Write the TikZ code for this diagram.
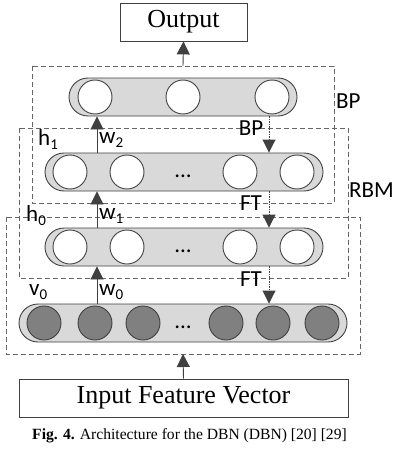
\documentclass[tikz,border=0pt]{standalone}
\usepackage{fontspec}
\setmainfont{Liberation Serif}
\newfontfamily\lab{Carlito}
\usetikzlibrary{arrows.meta,shapes.misc}
\definecolor{pillfill}{HTML}{D9D9D9}
\definecolor{ln}{HTML}{404040}
\definecolor{vis}{HTML}{808080}
\tikzset{
  pill/.style={rounded rectangle, draw=ln, fill=pillfill, line width=0.9pt, minimum height=38pt, inner sep=0pt},
  hcirc/.style={circle, draw=ln, fill=white, line width=0.9pt, minimum size=34pt, inner sep=0pt},
  vcirc/.style={circle, draw=ln, fill=vis, line width=0.9pt, minimum size=34pt, inner sep=0pt},
  dbox/.style={draw=ln!80, line width=0.8pt, dash pattern=on 5pt off 3pt},
  uparr/.style={draw=ln, line width=0.9pt, -{Triangle[width=13pt,length=13pt]}},
  dnarr/.style={draw=ln, line width=0.9pt, dash pattern=on 1.5pt off 1pt, -{Triangle[width=13pt,length=13pt]}},
  tbox/.style={draw=ln, line width=0.8pt, fill=white, inner sep=0pt, font=\fontsize{26}{28}\selectfont},
  lbl/.style={font=\lab\fontsize{23}{25}\selectfont, inner sep=0pt},
}
\newcommand{\sbs}[1]{\raisebox{-4pt}{\fontsize{15}{15}\selectfont #1}}
\begin{document}
\begin{tikzpicture}[x=1pt,y=-1pt]
\useasboundingbox (0,0) rectangle (402,452);
% dashed boxes
\draw[dbox] (32,66) rectangle (334,203);
\draw[dbox] (19,128) rectangle (348,278);
\draw[dbox] (6,217) rectangle (360,354);
% text boxes
\node[tbox, minimum width=127pt, minimum height=38pt] (out) at (183.5,22) {Output};
\node[tbox, minimum width=329pt, minimum height=38pt] (in) at (183.5,398) {Input Feature Vector};
% layers
\node[pill, minimum width=228pt] (L3) at (183,97) {};
\node[pill, minimum width=278pt] (L2) at (184,172) {};
\node[pill, minimum width=278pt] (L1) at (184,247) {};
\node[pill, minimum width=328pt] (L0) at (183,323) {};
% BP circles
\node[hcirc] (b1) at (95,97) {};
\node[hcirc] (b2) at (183,97) {};
\node[hcirc] (b3) at (272,97) {};
% h1 circles
\node[hcirc] (p1) at (70,172) {};
\node[hcirc] (p2) at (127,172) {};
\node[hcirc] (p3) at (240,172) {};
\node[hcirc] (p4) at (297,172) {};
\node[lbl] (pd) at (183,176) {...};
% h0 circles
\node[hcirc] (q1) at (70,247) {};
\node[hcirc] (q2) at (127,247) {};
\node[hcirc] (q3) at (240,247) {};
\node[hcirc] (q4) at (297,247) {};
\node[lbl] (qd) at (183,251) {...};
% v0 circles
\node[vcirc] (v1) at (44,323) {};
\node[vcirc] (v2) at (95,323) {};
\node[vcirc] (v3) at (143,323) {};
\node[vcirc] (v4) at (226,323) {};
\node[vcirc] (v5) at (273,323) {};
\node[vcirc] (v6) at (322,323) {};
\node[lbl] (vd) at (183,327) {...};
% arrow columns
\coordinate (xu) at (97,0);
\coordinate (xd) at (269,0);
\coordinate (bpb) at (183,66);
\coordinate (bot) at (183,354);
\draw[uparr] (bpb) -- (out.south);
\draw[uparr] (in.north) -- (bot);
\draw[uparr] (xu |- L2.north) -- (xu |- L3.south);
\draw[uparr] (xu |- L1.north) -- (xu |- L2.south);
\draw[uparr] (xu |- L0.north) -- (xu |- L1.south);
\draw[dnarr] (xd |- L3.south) -- (xd |- L2.north);
\draw[dnarr] (xd |- L2.south) -- (xd |- L1.north);
\draw[dnarr] (xd |- L1.south) -- (xd |- L0.north);
% labels
\node[lbl, anchor=west] (tBP) at (336,101) {BP};
\node[lbl, anchor=west] (tRBM) at (349,190) {RBM};
\node[lbl] (tbp2) at (251,128) {BP};
\node[lbl] (tft1) at (251,203) {FT};
\node[lbl] (tft2) at (251,279) {FT};
\node[lbl, anchor=west] (th1) at (38,140) {h\sbs{1}};
\node[lbl, anchor=west] (th0) at (26,216) {h\sbs{0}};
\node[lbl, anchor=west] (tv0) at (29,292) {v\sbs{0}};
\node[lbl, anchor=west] (tw2) at (99,140) {w\sbs{2}};
\node[lbl, anchor=west] (tw1) at (99,216) {w\sbs{1}};
\node[lbl, anchor=west] (tw0) at (99,292) {w\sbs{0}};
\node[font=\fontsize{15.6}{17}\selectfont, inner sep=0pt] (cap) at (189.5,436) {\textbf{Fig. 4.} Architecture for the DBN (DBN) [20] [29]};
\end{tikzpicture}
\end{document}
